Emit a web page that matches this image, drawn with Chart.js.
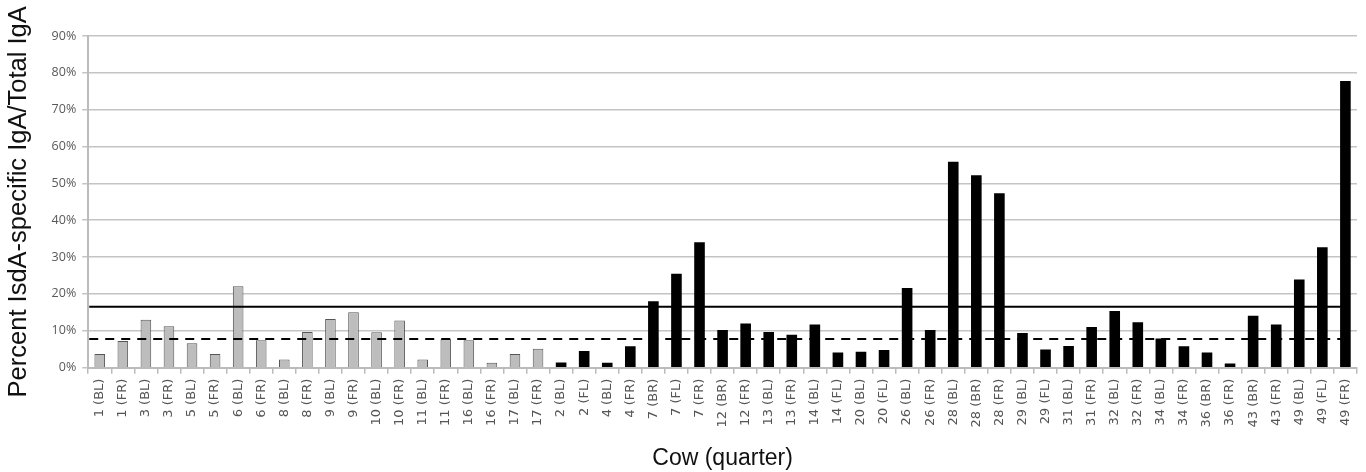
<!DOCTYPE html>
<html lang="en">
<head>
    <meta charset="UTF-8">
    <title>IsdA-specific IgA</title>
    <script src="https://cdn.jsdelivr.net/npm/chart.js"></script>
    <style>
        html, body { margin: 0; padding: 0; background: #fff; }
        #wrap { width: 1366px; height: 472px; }
    </style>
</head>
<body>
    <div id="wrap"><canvas id="iga-chart"></canvas></div>

    <script>
        // Quarters (gray group, then black group)
        const grayLabels = ['1 (BL)', '1 (FR)', '3 (BL)', '3 (FR)', '5 (BL)', '5 (FR)', '6 (BL)', '6 (FR)',
            '8 (BL)', '8 (FR)', '9 (BL)', '9 (FR)', '10 (BL)', '10 (FR)', '11 (BL)', '11 (FR)',
            '16 (BL)', '16 (FR)', '17 (BL)', '17 (FR)'];
        const blackLabels = ['2 (BL)', '2 (FL)', '4 (BL)', '4 (FR)', '7 (BR)', '7 (FL)', '7 (FR)',
            '12 (BR)', '12 (FR)', '13 (BL)', '13 (FR)', '14 (BL)', '14 (FL)', '20 (BL)', '20 (FL)',
            '26 (BL)', '26 (FR)', '28 (BL)', '28 (BR)', '28 (FR)', '29 (BL)', '29 (FL)', '31 (BL)',
            '31 (FR)', '32 (BL)', '32 (FR)', '34 (BL)', '34 (FR)', '36 (BR)', '36 (FR)', '43 (BR)',
            '43 (FR)', '49 (BL)', '49 (FL)', '49 (FR)'];

        // Percent IsdA-specific IgA / total IgA
        const grayValues = [3.7, 7.2, 13.0, 11.2, 6.6, 3.7, 22.1, 7.4, 2.2, 9.7, 13.2, 15.0, 9.6, 12.8,
            2.2, 7.7, 7.4, 1.3, 3.7, 5.1];
        const blackValues = [1.4, 4.5, 1.3, 5.8, 18.0, 25.5, 34.0, 10.2, 12.0, 9.7, 8.9, 11.7, 4.1,
            4.3, 4.8, 21.6, 10.2, 55.9, 52.2, 47.3, 9.4, 4.9, 5.9, 11.0, 15.4, 12.3, 7.9, 5.8, 4.1,
            1.1, 14.1, 11.7, 23.9, 32.7, 77.8];

        // Reference lines (solid and dashed)
        const solidLevel = 16.5;
        const dashedLevel = 7.8;

        const yTicks = [0, 10, 20, 30, 40, 50, 60, 70, 80, 90];

        const labels = grayLabels.concat(blackLabels);
        const grayData = grayValues.concat(blackLabels.map(() => null));
        const blackData = grayLabels.map(() => null).concat(blackValues);

        const refLines = {
            id: 'refLines',
            afterDatasetsDraw(chart) {
                const { ctx, chartArea, scales } = chart;
                const draw = (v, dash) => {
                    const y = scales.y.getPixelForValue(v);
                    ctx.save();
                    ctx.strokeStyle = '#000';
                    ctx.lineWidth = 2;
                    ctx.setLineDash(dash);
                    ctx.beginPath();
                    ctx.moveTo(chartArea.left + 1, y);
                    ctx.lineTo(chartArea.right - 15, y);
                    ctx.stroke();
                    ctx.restore();
                };
                draw(solidLevel, []);
                draw(dashedLevel, [9, 7]);
            }
        };

        new Chart(document.getElementById('iga-chart'), {
            type: 'bar',
            data: {
                labels: labels,
                datasets: [{
                    data: grayData,
                    backgroundColor: '#bdbdbd',
                    borderColor: '#555',
                    borderWidth: 1,
                    barPercentage: 0.46,
                    categoryPercentage: 1,
                    grouped: false
                }, {
                    data: blackData,
                    backgroundColor: '#000',
                    borderColor: '#000',
                    borderWidth: 0,
                    barPercentage: 0.46,
                    categoryPercentage: 1,
                    grouped: false
                }]
            },
            plugins: [refLines],
            options: {
                responsive: true,
                maintainAspectRatio: false,
                animation: false,
                layout: { padding: { top: 36, right: 0, left: 4, bottom: 0 } },
                plugins: {
                    legend: { display: false },
                    tooltip: { enabled: false }
                },
                scales: {
                    x: {
                        grid: {
                            offset: true,
                            drawOnChartArea: false,
                            tickLength: 6,
                            color: '#bbb',
                            lineWidth: 1.5
                        },
                        border: { color: '#bbb', width: 2 },
                        ticks: {
                            minRotation: 90,
                            maxRotation: 90,
                            autoSkip: false,
                            padding: 5,
                            color: '#555',
                            font: { family: 'DejaVu Sans', size: 13 }
                        },
                        title: {
                            display: true,
                            text: 'Cow (quarter)',
                            color: '#111',
                            font: { family: 'Liberation Sans', size: 23 },
                            padding: { top: 12, bottom: 0 }
                        }
                    },
                    y: {
                        min: 0,
                        max: 90,
                        afterBuildTicks(axis) {
                            axis.ticks = yTicks.map(v => ({ value: v }));
                        },
                        grid: {
                            color: '#c4c4c4',
                            lineWidth: 1.5,
                            tickLength: 6
                        },
                        border: { color: '#bbb', width: 2 },
                        ticks: {
                            callback: v => v + '%',
                            color: '#595959',
                            padding: 6,
                            font: { family: 'Open Sans', size: 12.5 }
                        },
                        title: {
                            display: true,
                            text: 'Percent IsdA-specific IgA/Total IgA',
                            color: '#111',
                            font: { family: 'Liberation Sans', size: 25.5 },
                            padding: { top: 0, bottom: 11 }
                        }
                    }
                }
            }
        });
    </script>
</body>
</html>
